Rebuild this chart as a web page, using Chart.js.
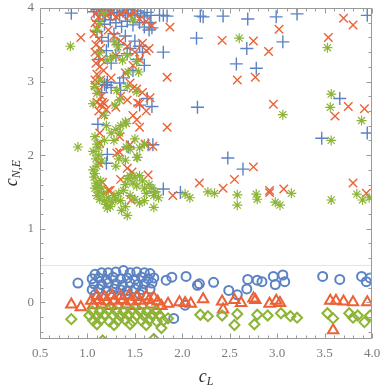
<!DOCTYPE html>
<html>
<head>
<meta charset="utf-8">
<script src="https://cdn.jsdelivr.net/npm/chart.js@4.4.1/dist/chart.umd.min.js"></script>
<style>
  html, body { margin:0; padding:0; background:#fff; }
  #wrap { position:relative; width:380px; height:390px; }
  canvas { position:absolute; left:0; top:0; }
  .ttl { position:absolute; font-family:'Liberation Serif', serif; font-style:italic; color:#333; white-space:nowrap; line-height:1; }
  .ttl sub { font-size:12px; vertical-align:-3px; }
  #xt { left:0; width:412px; text-align:center; top:367px; font-size:18px; }
  #yt { left:-28px; top:163px; width:80px; text-align:center; font-size:18px; transform:rotate(-90deg); }
</style>
</head>
<body>
<div id="wrap">
  <canvas id="c" width="380" height="390"></canvas>
  <div class="ttl" id="xt">c<sub>L</sub></div>
  <div class="ttl" id="yt">c<sub>N,E</sub></div>
</div>
<script>
// ---------- data ----------
const xTickLabels = [0.5, 1.0, 1.5, 2.0, 2.5, 3.0, 3.5, 4.0];
const yTickLabels = [0, 1, 2, 3, 4];
const thresholdLine = [[0.5, 0.5], [4.0, 0.5]];

const bluePlus = [
  [0.83,3.93],[1.80,3.90],[1.84,3.89],[2.19,3.89],[2.22,3.88],[2.43,3.89],[2.69,3.85],[2.99,3.88],[3.21,3.92],[3.95,3.90],
  [2.15,3.59],[1.66,3.80],[1.68,3.73],[1.80,3.40],[2.68,3.45],[3.06,3.54],[2.57,3.24],[2.78,3.18],[2.16,2.65],[3.66,2.77],
  [1.68,2.66],[1.63,2.77],[1.55,2.68],[1.21,2.99],[1.18,2.96],[1.34,2.98],[1.11,2.42],[3.47,2.23],[3.95,2.30],[1.21,2.01],
  [1.20,1.89],[1.43,2.11],[1.69,2.14],[1.64,2.14],[2.48,1.96],[2.64,1.81],[1.70,1.50],[1.80,1.54],[1.98,1.49],[1.76,3.90],
  [1.07,3.95],[1.10,3.98],[1.13,3.92],[1.16,3.96],[1.19,3.90],[1.22,3.97],[1.25,3.93],[1.28,3.99],[1.31,3.94],[1.34,3.90],
  [1.37,3.96],[1.40,3.92],[1.43,3.98],[1.46,3.93],[1.50,3.90],[1.53,3.96],[1.56,3.92],[1.60,3.88],[1.63,3.94],[1.67,3.90],
  [1.12,3.82],[1.18,3.78],[1.24,3.84],[1.30,3.80],[1.36,3.75],[1.42,3.82],[1.48,3.77],[1.55,3.80],[1.60,3.74],[1.65,3.70],
  [1.10,3.68],[1.15,3.60],[1.22,3.55],[1.28,3.65],[1.33,3.50],[1.40,3.62],[1.45,3.45],[1.50,3.55],[1.55,3.48],[1.58,3.40],
  [1.20,3.42],[1.30,3.35],[1.42,3.38],[1.52,3.30],[1.60,3.22],[1.12,3.30],[1.25,3.25],[1.48,3.15],[1.38,3.05],[1.20,2.95],
  [1.25,2.92],[1.15,2.85],[1.35,2.88]
];

const orangeCross = [
  [0.93,3.60],[1.87,3.74],[1.84,3.06],[2.42,3.56],[2.58,3.02],[2.75,3.55],[2.77,3.06],[2.91,3.41],[3.02,3.71],[2.96,2.69],
  [3.54,3.60],[3.70,3.86],[3.80,3.77],[3.75,2.66],[3.61,2.53],[3.92,2.63],[1.55,2.38],[1.84,2.38],[1.31,2.03],[1.42,1.82],
  [1.47,1.77],[1.35,1.67],[1.61,2.15],[1.69,2.12],[1.13,2.30],[1.12,1.89],[1.16,1.63],[1.22,1.52],[1.46,1.39],[1.64,1.73],
  [1.90,1.45],[2.18,1.62],[2.43,1.55],[2.55,1.67],[2.75,1.84],[2.92,1.52],[2.92,1.49],[3.07,1.54],[3.80,1.62],[3.94,1.48],
  [1.34,2.25],[1.13,2.16],[1.34,2.04],[1.48,2.54],[1.53,2.71],[1.48,2.91],[1.16,2.72],[1.08,3.02],[1.45,2.14],[1.24,1.52],
  [1.08,3.92],[1.12,3.88],[1.16,3.95],[1.20,3.90],[1.25,3.94],[1.30,3.88],[1.35,3.92],[1.40,3.96],[1.45,3.90],[1.50,3.94],
  [1.55,3.85],[1.62,3.82],[1.68,3.76],[1.08,3.80],[1.10,3.72],[1.07,3.65],[1.12,3.58],[1.09,3.50],[1.14,3.45],[1.08,3.40],
  [1.11,3.35],[1.15,3.30],[1.09,3.25],[1.13,3.20],[1.17,3.15],[1.10,3.10],[1.14,3.02],[1.08,2.95],[1.12,2.88],[1.15,2.80],
  [1.10,2.72],[1.14,2.68],[1.18,2.70],[1.12,2.60],[1.16,2.55],[1.20,2.62],[1.22,3.70],[1.28,3.62],[1.35,3.55],[1.42,3.48],
  [1.50,3.40],[1.58,3.52],[1.62,3.42],[1.65,3.45],[1.55,3.30],[1.48,3.22],[1.40,3.12],[1.30,3.35],[1.25,3.05],[1.45,2.98],
  [1.52,2.90],[1.58,2.85],[1.35,2.80],[1.42,2.75],[1.55,2.70],[1.62,2.60],[1.52,2.48],[1.30,2.65],[1.66,2.78]
];

const greenStar = [
  [0.82,3.48],[2.60,3.59],[3.53,3.46],[3.57,2.83],[3.56,2.65],[3.89,2.47],[3.06,2.55],[1.41,2.43],[0.90,2.11],[3.57,2.20],
  [3.57,1.39],[3.84,1.47],[3.90,1.39],[2.27,1.50],[2.34,1.48],[2.58,1.46],[2.58,1.32],[2.78,1.47],[2.79,1.40],[2.98,1.36],
  [3.03,1.32],[3.15,1.48],[2.03,1.47],[2.08,1.42],[1.70,1.29],[1.42,1.18],[1.52,1.97],[1.40,1.93],[3.97,1.42],
  [1.13,3.02],[1.08,2.93],[1.10,2.84],[1.06,2.70],[1.18,2.54],[1.31,2.88],[1.42,2.93],[1.52,2.86],[1.34,2.75],[1.29,2.68],
  [1.21,3.29],[1.27,3.34],[1.37,3.29],[1.42,3.36],[1.52,3.27],[1.54,3.13],[1.43,3.13],[1.13,3.39],[1.10,3.70],[1.13,3.79],
  [1.17,3.93],[1.48,3.84],[1.29,3.54],[1.32,3.47],
  [1.06,1.80],[1.08,1.75],[1.10,1.85],[1.07,1.70],[1.09,1.62],[1.11,1.58],[1.08,1.55],[1.12,1.50],[1.14,1.65],[1.10,1.45],
  [1.13,1.40],[1.15,1.55],[1.17,1.48],[1.18,1.38],[1.20,1.33],[1.22,1.42],[1.24,1.30],[1.26,1.36],[1.21,1.28],[1.28,1.45],
  [1.30,1.40],[1.33,1.48],[1.35,1.38],[1.38,1.52],[1.40,1.60],[1.42,1.68],[1.45,1.72],[1.48,1.62],[1.50,1.70],[1.52,1.58],
  [1.55,1.72],[1.58,1.65],[1.60,1.55],[1.62,1.48],[1.65,1.60],[1.68,1.55],[1.70,1.45],[1.45,1.45],[1.50,1.40],[1.55,1.35],
  [1.40,1.30],[1.36,1.25],[1.60,1.38],[1.72,1.50],[1.75,1.42],
  [1.08,2.25],[1.10,2.15],[1.06,2.05],[1.12,2.00],[1.09,1.95],[1.15,1.92],[1.12,2.10],[1.18,2.20],[1.25,2.30],[1.30,2.35],
  [1.35,2.40],[1.28,2.20],[1.45,2.08],[1.55,2.10],[1.60,2.15],[1.50,2.22],[1.20,2.40],[1.30,1.85],[1.33,1.95],[1.34,2.30],
  [1.40,2.45],[1.41,2.11],[1.53,1.97]
];

const blueCircle = [
  [0.90,0.26],[1.83,0.30],[1.89,0.34],[2.04,0.35],[2.16,0.23],[2.18,0.25],[2.33,0.27],[2.49,0.16],[2.58,0.10],[2.68,0.18],
  [2.69,0.31],[2.79,0.30],[2.84,0.28],[2.96,0.35],[2.98,0.24],[3.06,0.37],[3.08,0.28],[3.48,0.35],[3.66,0.31],[3.89,0.35],
  [3.94,0.28],[2.03,-0.04],[1.91,-0.22],[3.98,0.33],
  [1.08,0.38],[1.15,0.40],[1.22,0.40],[1.30,0.41],[1.38,0.43],[1.45,0.40],[1.52,0.41],[1.60,0.40],[1.66,0.39],
  [1.05,0.32],[1.12,0.33],[1.20,0.31],[1.27,0.34],[1.35,0.32],[1.42,0.33],[1.50,0.31],[1.57,0.34],[1.64,0.32],[1.70,0.33],
  [1.07,0.25],[1.15,0.24],[1.22,0.26],[1.30,0.25],[1.37,0.23],[1.45,0.26],[1.53,0.24],[1.60,0.25],[1.68,0.26],
  [1.05,0.17],[1.12,0.18],[1.20,0.16],[1.28,0.18],[1.35,0.17],[1.42,0.16],[1.50,0.18],[1.58,0.17],[1.66,0.18],
  [1.08,0.10],[1.25,0.11],[1.40,0.10],[1.55,0.11]
];

const orangeTriangle = [
  [0.83,-0.03],[0.93,-0.07],[1.85,-0.02],[1.97,0.00],[2.03,-0.01],[2.09,-0.02],[2.22,0.04],[2.42,0.01],[2.43,-0.10],[2.55,0.03],
  [2.62,-0.01],[2.75,0.05],[2.77,0.03],[2.92,-0.02],[2.99,0.02],[3.03,-0.01],[3.56,0.02],[3.62,0.02],[3.70,0.01],[3.80,0.00],
  [3.95,0.00],[3.59,-0.38],[1.73,-0.11],
  [1.10,0.08],[1.18,0.07],[1.26,0.09],[1.35,0.08],[1.44,0.09],[1.52,0.07],[1.62,0.08],[1.70,0.06],
  [1.04,0.02],[1.12,0.03],[1.20,0.01],[1.28,0.02],[1.37,0.03],[1.46,0.01],[1.55,0.02],[1.65,0.03],[1.74,0.01],
  [1.06,-0.04],[1.15,-0.03],[1.24,-0.05],[1.32,-0.04],[1.41,-0.03],[1.50,-0.05],[1.58,-0.04],[1.67,-0.03],[1.78,-0.05]
];

const greenDiamond = [
  [0.83,-0.23],[2.19,-0.17],[2.27,-0.19],[2.42,-0.18],[2.55,-0.31],[2.58,-0.16],[2.76,-0.30],[2.79,-0.17],[2.90,-0.18],[3.04,-0.15],
  [3.14,-0.19],[3.21,-0.21],[3.53,-0.15],[3.59,-0.22],[3.76,-0.15],[3.80,-0.21],[3.85,-0.18],[3.92,-0.27],[3.98,-0.18],[1.16,-0.52],
  [1.70,-0.50],[1.78,-0.35],[1.85,-0.22],
  [1.05,-0.12],[1.13,-0.13],[1.22,-0.11],[1.30,-0.12],[1.38,-0.13],[1.47,-0.11],[1.55,-0.12],[1.63,-0.13],[1.72,-0.12],
  [1.02,-0.18],[1.10,-0.19],[1.18,-0.17],[1.27,-0.18],[1.35,-0.19],[1.43,-0.17],[1.52,-0.18],[1.60,-0.19],[1.68,-0.17],[1.76,-0.18],
  [1.06,-0.25],[1.14,-0.24],[1.23,-0.26],[1.32,-0.25],[1.40,-0.24],[1.48,-0.26],[1.57,-0.25],[1.65,-0.24],[1.73,-0.26],[1.80,-0.25],
  [1.10,-0.30],[1.28,-0.31],[1.45,-0.30],[1.62,-0.31]
];

// ---------- styling ----------
const BLUE = '#5b83c3', ORANGE = '#ec6236', GREEN = '#8db436';
const toPts = arr => arr.map(([x, y]) => ({x, y}));
const noClip = {left:0, top:0, right:0, bottom:0};

function scatterSet(data, color, style, radius, bw, order) {
  return {
    data: toPts(data), showLine:false, pointStyle:style, pointRadius:radius, pointHoverRadius:radius,
    pointBorderColor:color, pointBackgroundColor:'rgba(0,0,0,0)', pointBorderWidth:bw, order, clip:noClip
  };
}

const frameTicks = {
  id:'frameTicks',
  afterDatasetsDraw(chart) {
    const {ctx, chartArea:a, scales:{x, y}} = chart;
    ctx.save();
    ctx.strokeStyle = '#9a9a9a';
    ctx.lineWidth = 1;
    ctx.beginPath();
    const L = Math.round(a.left) + 0.5, R = Math.round(a.right) - 0.5, T = Math.round(a.top) + 0.5, B = Math.round(a.bottom) - 0.5;
    ctx.rect(L, T, R - L, B - T);
    for (let i = 0; i <= 35; i++) {
      const v = 0.5 + i * 0.1;
      const px = Math.round(x.getPixelForValue(v)) + 0.5;
      const len = (i % 5 === 0) ? 5 : 3;
      ctx.moveTo(px, B); ctx.lineTo(px, B - len);
      ctx.moveTo(px, T); ctx.lineTo(px, T + len);
    }
    for (let i = 0; i <= 22; i++) {
      const v = -0.4 + i * 0.2;
      const py = Math.round(y.getPixelForValue(v)) + 0.5;
      const major = Math.abs(v - Math.round(v)) < 1e-6;
      const len = major ? 5 : 3;
      ctx.moveTo(L, py); ctx.lineTo(L + len, py);
      ctx.moveTo(R, py); ctx.lineTo(R - len, py);
    }
    ctx.stroke();
    ctx.restore();
  }
};

const tickFont = {family:"'Liberation Serif', serif", size:13};

new Chart(document.getElementById('c'), {
  type:'scatter',
  data:{
    datasets:[
      {type:'line', data:toPts(thresholdLine), borderColor:'#e4e4e4', borderWidth:1, pointRadius:0, order:10, clip:noClip},
      scatterSet(bluePlus, BLUE, 'cross', 6.5, 1.4, 6),
      scatterSet(orangeCross, ORANGE, 'crossRot', 6, 1.4, 5),
      scatterSet(greenStar, GREEN, 'star', 5, 1.2, 4),
      scatterSet(blueCircle, BLUE, 'circle', 4.5, 2, 3),
      scatterSet(orangeTriangle, ORANGE, 'triangle', 6, 2, 2),
      scatterSet(greenDiamond, GREEN, 'rectRot', 5, 2, 1)
    ]
  },
  options:{
    responsive:false, animation:false, devicePixelRatio:1,
    layout:{padding:{left:0, top:7, right:8, bottom:0}},
    plugins:{legend:{display:false}, tooltip:{enabled:false}},
    scales:{
      x:{
        type:'linear', min:0.5, max:4.0,
        grid:{display:false, drawTicks:false}, border:{display:false},
        afterBuildTicks: s => { s.ticks = xTickLabels.map(v => ({value:v})); },
        afterFit: s => { s.height = 51; s.paddingLeft = 0; s.paddingRight = 0; },
        ticks:{font:tickFont, color:'#7a7a7a', padding:7, maxRotation:0, autoSkip:false, callback: v => Number(v).toFixed(1)}
      },
      y:{
        type:'linear', min:-0.5, max:4.0,
        grid:{display:false, drawTicks:false}, border:{display:false},
        afterBuildTicks: s => { s.ticks = yTickLabels.map(v => ({value:v})); },
        afterFit: s => { s.width = 40; s.paddingTop = 0; s.paddingBottom = 0; },
        ticks:{font:tickFont, color:'#7a7a7a', padding:6, autoSkip:false, callback: v => String(v)}
      }
    }
  },
  plugins:[frameTicks]
});
</script>
</body>
</html>
